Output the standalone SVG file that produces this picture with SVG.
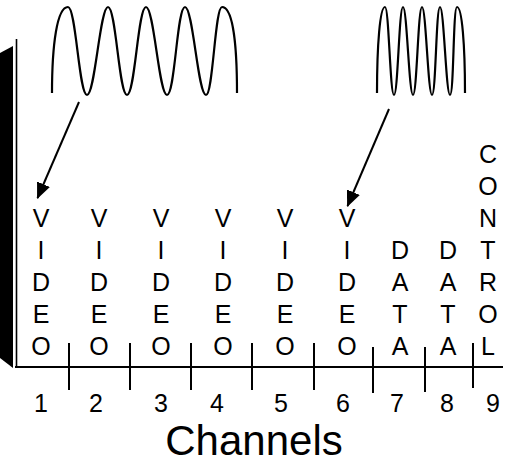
<svg xmlns="http://www.w3.org/2000/svg" width="506" height="469" viewBox="0 0 506 469">
  <style>
    .ln { fill: none; stroke: #000; stroke-width: 2; }
    .wave { fill: none; stroke: #000; stroke-width: 2.2; stroke-linecap: butt; }
    .lbl { font-family: "Liberation Sans", Arial, sans-serif; font-size: 25px; fill: #000; text-anchor: middle; }
    .title { font-family: "Liberation Sans", Arial, sans-serif; font-size: 42px; fill: #000; text-anchor: middle; }
  </style>
  <defs>
    <marker id="arrow" markerUnits="userSpaceOnUse" markerWidth="16" markerHeight="14" refX="15" refY="7" orient="auto">
      <path d="M0,0 L16,7 L0,14 z" fill="#000"/>
    </marker>
  </defs>
  <rect width="506" height="469" fill="#fff"/>

  <g id="frame">
    <polygon points="0,53 13,46 13,368 0,358" fill="#000"/>
    <line x1="16.5" y1="39" x2="16.5" y2="366" stroke="#000" stroke-width="1.6"/>
  </g>

  <g id="axis">
    <line class="ln" x1="15" y1="367" x2="503" y2="367"/>
    <line class="ln" x1="69" y1="343" x2="69" y2="390"/>
    <line class="ln" x1="130" y1="343" x2="130" y2="390"/>
    <line class="ln" x1="191" y1="343" x2="191" y2="390"/>
    <line class="ln" x1="252" y1="343" x2="252" y2="390"/>
    <line class="ln" x1="314" y1="343" x2="314" y2="390"/>
    <line class="ln" x1="373" y1="347" x2="373" y2="393"/>
    <line class="ln" x1="425" y1="347" x2="425" y2="392"/>
    <line class="ln" x1="473" y1="343" x2="473" y2="388"/>
  </g>

  <g id="wave-low">
    <path class="wave" d="M52,93 C52,45 57,7 68,7 C76,7 79,95 87,95 C95,95 100,7 108,7 C116,7 119,95 127,95 C135,95 138,7 146,7 C154,7 159,95 167,95 C175,95 177,7 185,7 C193,7 198,95 206,95 C213,95 215,7 222,7 C233,7 237,45 237,93"/>
  </g>

  <g id="wave-high">
    <path class="wave" d="M377,93 C377,45 380,7 385,7 C389,7 390,95 394,95 C398,95 399,7 403,7 C407,7 409,95 413,95 C417,95 418,7 422,7 C426,7 428,95 432,95 C436,95 436,7 440,7 C444,7 446,95 450,95 C454,95 453,7 457,7 C462,7 465,45 465,93"/>
  </g>

  <g id="connectors">
    <line class="ln" x1="79" y1="102" x2="37.5" y2="198" marker-end="url(#arrow)"/>
    <line class="ln" x1="389" y1="109" x2="347.5" y2="206" marker-end="url(#arrow)"/>
  </g>

  <g id="ch1"><text class="lbl" x="41" y="227">V</text><text class="lbl" x="41" y="259">I</text><text class="lbl" x="41" y="291">D</text><text class="lbl" x="41" y="323">E</text><text class="lbl" x="41" y="355">O</text></g>
  <g id="ch2"><text class="lbl" x="99" y="227">V</text><text class="lbl" x="99" y="259">I</text><text class="lbl" x="99" y="291">D</text><text class="lbl" x="99" y="323">E</text><text class="lbl" x="99" y="355">O</text></g>
  <g id="ch3"><text class="lbl" x="161" y="227">V</text><text class="lbl" x="161" y="259">I</text><text class="lbl" x="161" y="291">D</text><text class="lbl" x="161" y="323">E</text><text class="lbl" x="161" y="355">O</text></g>
  <g id="ch4"><text class="lbl" x="223" y="227">V</text><text class="lbl" x="223" y="259">I</text><text class="lbl" x="223" y="291">D</text><text class="lbl" x="223" y="323">E</text><text class="lbl" x="223" y="355">O</text></g>
  <g id="ch5"><text class="lbl" x="285" y="227">V</text><text class="lbl" x="285" y="259">I</text><text class="lbl" x="285" y="291">D</text><text class="lbl" x="285" y="323">E</text><text class="lbl" x="285" y="355">O</text></g>
  <g id="ch6"><text class="lbl" x="347" y="227">V</text><text class="lbl" x="347" y="259">I</text><text class="lbl" x="347" y="291">D</text><text class="lbl" x="347" y="323">E</text><text class="lbl" x="347" y="355">O</text></g>
  <g id="ch7"><text class="lbl" x="400" y="259">D</text><text class="lbl" x="400" y="291">A</text><text class="lbl" x="400" y="323">T</text><text class="lbl" x="400" y="355">A</text></g>
  <g id="ch8"><text class="lbl" x="448" y="259">D</text><text class="lbl" x="448" y="291">A</text><text class="lbl" x="448" y="323">T</text><text class="lbl" x="448" y="355">A</text></g>
  <g id="ch9"><text class="lbl" x="488" y="163">C</text><text class="lbl" x="488" y="195">O</text><text class="lbl" x="488" y="227">N</text><text class="lbl" x="488" y="259">T</text><text class="lbl" x="488" y="291">R</text><text class="lbl" x="488" y="323">O</text><text class="lbl" x="488" y="355">L</text></g>

  <g id="numbers">
    <text class="lbl" x="41" y="412">1</text>
    <text class="lbl" x="96" y="412">2</text>
    <text class="lbl" x="161" y="412">3</text>
    <text class="lbl" x="217" y="412">4</text>
    <text class="lbl" x="281" y="412">5</text>
    <text class="lbl" x="343" y="412">6</text>
    <text class="lbl" x="397" y="412">7</text>
    <text class="lbl" x="447" y="412">8</text>
    <text class="lbl" x="493" y="412">9</text>
  </g>

  <g id="title">
    <text class="title" x="254" y="455">Channels</text>
  </g>
</svg>
